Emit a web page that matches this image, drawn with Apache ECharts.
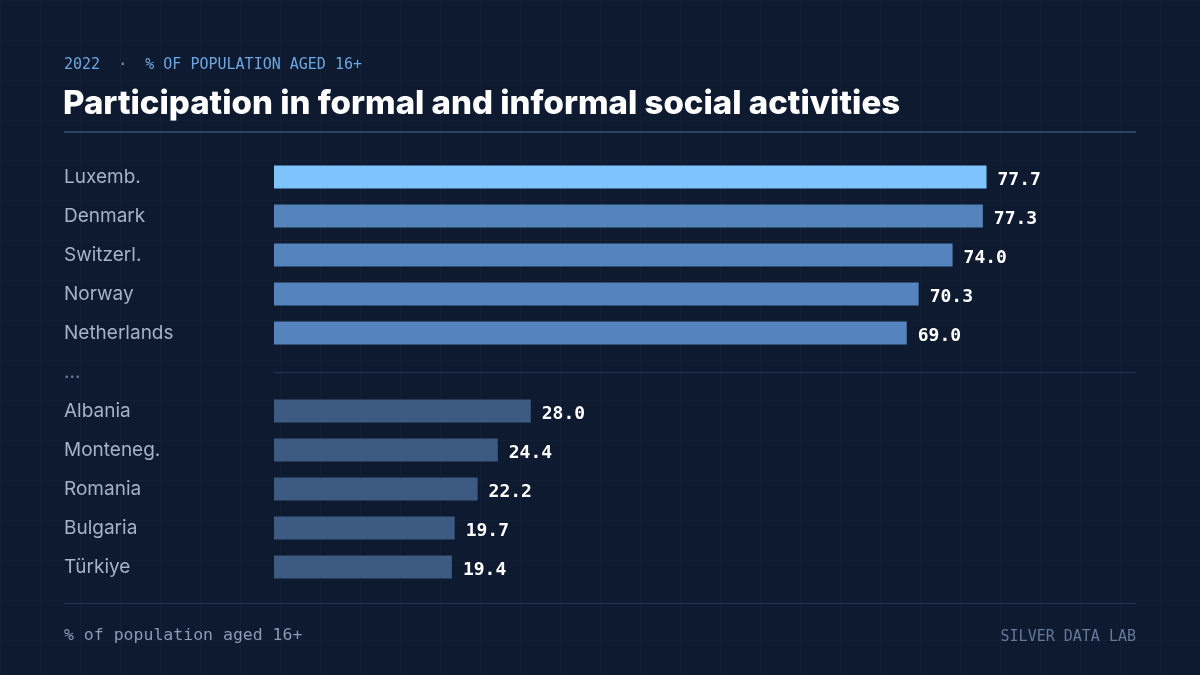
<!DOCTYPE html>
<html>
<head>
<meta charset="utf-8">
<script src="https://cdn.jsdelivr.net/npm/echarts@6/dist/echarts.min.js"></script>
<style>
  html, body { margin: 0; padding: 0; }
  body {
    background-color: #0d1a30;
    background-image:
      linear-gradient(rgba(255,255,255,0.025) 1px, transparent 1px),
      linear-gradient(90deg, rgba(255,255,255,0.025) 1px, transparent 1px);
    background-size: 40px 40px;
  }
  #chart { width: 1200px; height: 675px; }
</style>
</head>
<body>
<div id="chart"></div>
<script>
// countries in display order, '...' marks the gap between top and bottom groups
const countries = ['Luxemb.', 'Denmark', 'Switzerl.', 'Norway', 'Netherlands', '...',
                   'Albania', 'Monteneg.', 'Romania', 'Bulgaria', 'Türkiye'];
const values = [77.7, 77.3, 74.0, 70.3, 69.0, null, 28.0, 24.4, 22.2, 19.7, 19.4];
const tiers = ['lead', 'top', 'top', 'top', 'top', null, 'bottom', 'bottom', 'bottom', 'bottom', 'bottom'];

const tierColor = {
    lead: '#7fc3fd',
    top: '#5583bd',
    bottom: '#3c5a82'
};

let chart = echarts.init(document.getElementById('chart'));

let barData = [];
for (let i = 0; i < values.length; i++) {
    if (values[i] === null) {
        barData.push('-');
        continue;
    }
    barData.push({
        value: values[i],
        itemStyle: { color: tierColor[tiers[i]] }
    });
}

let option = {
    backgroundColor: 'transparent',
    animation: false,
    title: [{
        text: '2022  ·  % OF POPULATION AGED 16+',
        left: 64,
        top: 57,
        padding: 0,
        textStyle: {
            fontFamily: 'DejaVu Sans Mono',
            fontSize: 15,
            fontWeight: 'normal',
            lineHeight: 16,
            color: '#6ea6e2'
        }
    }, {
        text: 'Participation in formal and informal social activities',
        left: 63,
        top: 87,
        padding: 0,
        textStyle: {
            fontFamily: 'Inter',
            fontSize: 33,
            fontWeight: 800,
            lineHeight: 35,
            color: '#ffffff'
        }
    }, {
        text: '% of population aged 16+',
        left: 64,
        top: 627,
        padding: 0,
        textStyle: {
            fontFamily: 'DejaVu Sans Mono',
            fontSize: 16.5,
            fontWeight: 'normal',
            lineHeight: 17,
            color: '#8c9bb3'
        }
    }, {
        text: 'SILVER DATA LAB',
        right: 64,
        top: 629,
        padding: 0,
        textStyle: {
            fontFamily: 'DejaVu Sans Mono',
            fontSize: 15,
            fontWeight: 'normal',
            lineHeight: 16,
            color: '#66799a'
        }
    }],
    graphic: [{
        type: 'rect',
        shape: { x: 64, y: 131, width: 1072, height: 2 },
        style: { fill: '#2b4166' },
        silent: true
    }, {
        type: 'rect',
        shape: { x: 64, y: 603, width: 1072, height: 1 },
        style: { fill: '#24344f' },
        silent: true
    }],
    grid: {
        left: 274,
        right: 64,
        top: 157.5,
        height: 429,
        containLabel: false
    },
    xAxis: {
        type: 'value',
        min: 0,
        max: 94,
        show: false
    },
    yAxis: {
        type: 'category',
        inverse: true,
        data: countries,
        axisLine: { show: false },
        axisTick: { show: false },
        splitLine: { show: false },
        axisLabel: {
            align: 'left',
            margin: 210,
            fontFamily: 'Inter',
            fontSize: 19,
            color: function (value) {
                return value === '...' ? '#6d7c95' : '#a6b3c6';
            },
            verticalAlign: 'middle',
            padding: [0, 0, 1, 0]
        }
    },
    series: [{
        type: 'bar',
        barWidth: 23,
        data: barData,
        label: {
            show: true,
            position: 'right',
            distance: 11,
            offset: [0, 3],
            fontFamily: 'DejaVu Sans Mono',
            fontWeight: 'bold',
            fontSize: 18,
            color: '#ffffff',
            formatter: function (p) {
                return Number(p.value).toFixed(1);
            }
        },
        markLine: {
            silent: true,
            symbol: 'none',
            label: { show: false },
            lineStyle: { color: '#22324d', width: 1, type: 'solid' },
            data: [{ yAxis: '...' }]
        }
    }]
};

chart.setOption(option);
</script>
</body>
</html>
